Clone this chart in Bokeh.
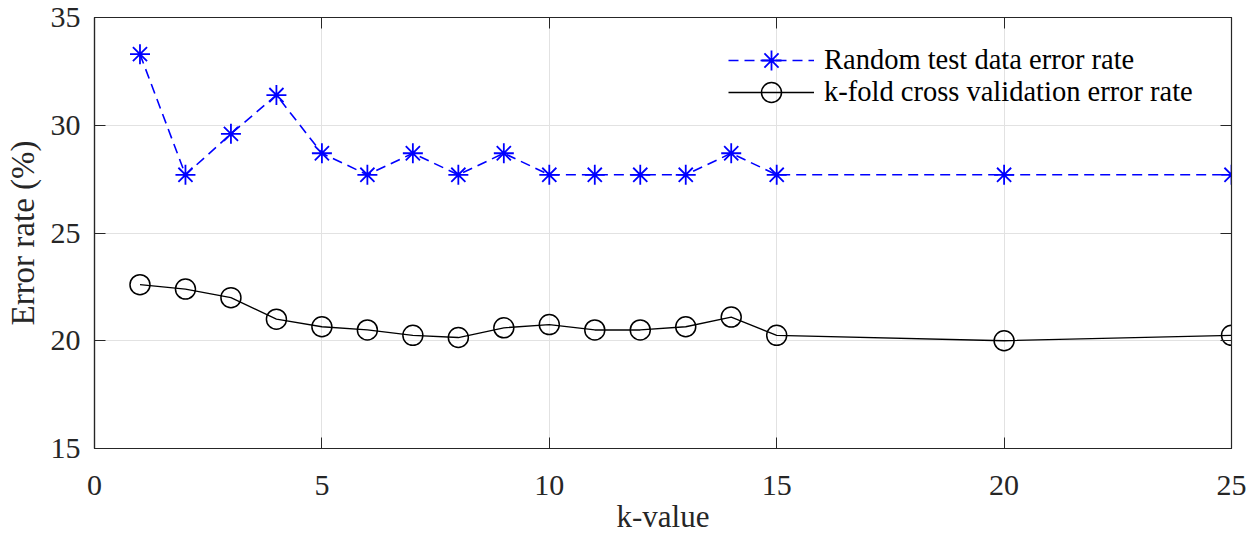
from bokeh.plotting import figure
from bokeh.models import Legend, LegendItem, LinearAxis, FixedTicker, Range1d
from bokeh.embed import file_html
from bokeh.resources import INLINE

k_values = [1, 2, 3, 4, 5, 6, 7, 8, 9, 10, 11, 12, 13, 14, 15, 20, 25]
random_test_error = [33.3, 27.7, 29.6, 31.4, 28.7, 27.7, 28.7, 27.7, 28.7, 27.7, 27.7, 27.7, 27.7, 28.7, 27.7, 27.7, 27.7]
kfold_cv_error = [22.6, 22.4, 22.0, 21.0, 20.65, 20.5, 20.25, 20.15, 20.6, 20.75, 20.5, 20.5, 20.65, 21.1, 20.25, 20.0, 20.25]
x_ticks = [0, 5, 10, 15, 20, 25]
y_ticks = [15, 20, 25, 30, 35]
series_names = ["Random test data error rate", "k-fold cross validation error rate"]

FONT = "Liberation Serif"
AX = "#262626"

p = figure(frame_width=1137, frame_height=431, output_backend="svg", toolbar_location=None,
           x_range=Range1d(0, 25), y_range=Range1d(15, 35),
           min_border_left=94, min_border_right=20, min_border_top=17, min_border_bottom=80)
p.outline_line_color = AX
p.outline_line_width = 1.2
p.background_fill_color = "white"
p.border_fill_color = "white"

for ax in (p.xaxis[0], p.yaxis[0]):
    ax.major_label_text_font = FONT
    ax.major_label_text_font_size = "30px"
    ax.major_label_text_color = AX
    ax.axis_label_text_font = FONT
    ax.axis_label_text_font_style = "normal"
    ax.axis_label_text_color = AX
    ax.axis_line_color = AX
    ax.axis_line_width = 1.2
    ax.major_tick_in = 11
    ax.major_tick_out = 0
    ax.major_tick_line_color = AX
    ax.minor_tick_line_color = None

p.xaxis[0].ticker = FixedTicker(ticks=x_ticks)
p.yaxis[0].ticker = FixedTicker(ticks=y_ticks)
p.xaxis[0].axis_label = "k-value"
p.yaxis[0].axis_label = "Error rate (%)"
p.xaxis[0].axis_label_text_font_size = "31px"
p.yaxis[0].axis_label_text_font_size = "33px"
p.xaxis[0].major_label_standoff = 27
p.yaxis[0].major_label_standoff = 14
p.xaxis[0].axis_label_standoff = 1
p.yaxis[0].axis_label_standoff = 7

# mirrored ticks on top and right
top = LinearAxis(ticker=FixedTicker(ticks=x_ticks), major_label_text_font_size="0px",
                 major_tick_in=11, major_tick_out=0, minor_tick_line_color=None,
                 major_label_standoff=0, axis_line_color=AX, major_tick_line_color=AX)
right = LinearAxis(ticker=FixedTicker(ticks=y_ticks), major_label_text_font_size="0px",
                   major_tick_in=11, major_tick_out=0, minor_tick_line_color=None,
                   major_label_standoff=0, axis_line_color=AX, major_tick_line_color=AX)
p.add_layout(top, "above")
p.add_layout(right, "right")

p.xgrid.ticker = FixedTicker(ticks=x_ticks)
p.ygrid.ticker = FixedTicker(ticks=y_ticks)
p.grid.grid_line_color = "#e2e2e2"
p.grid.grid_line_width = 1

l1 = p.line(k_values, random_test_error, line_color="#0000ff", line_width=1.6, line_dash="10 6")
m1 = p.scatter(k_values, random_test_error, marker="asterisk", size=20, line_color="#0000ff", line_width=1.8)
l2 = p.line(k_values, kfold_cv_error, line_color="black", line_width=1.3)
m2 = p.scatter(k_values, kfold_cv_error, marker="circle", size=20, line_color="black", line_width=1.5, fill_alpha=0)


def make_legend(label, renderers, loc):
    lg = Legend(items=[LegendItem(label=label, renderers=renderers)], location=loc)
    lg.label_text_font = FONT
    lg.label_text_font_size = "28.5px"
    lg.label_text_color = "black"
    lg.glyph_width = 86
    lg.glyph_height = 50
    lg.label_height = 50
    lg.spacing = 0
    lg.padding = 0
    lg.margin = 0
    lg.label_standoff = 10
    lg.border_line_color = None
    lg.background_fill_alpha = 0
    return lg


p.add_layout(make_legend(series_names[0], [l1, m1], (634, 363)), "center")
p.add_layout(make_legend(series_names[1], [l2, m2], (634, 331)), "center")

open("out.html", "w").write(file_html(p, INLINE))
